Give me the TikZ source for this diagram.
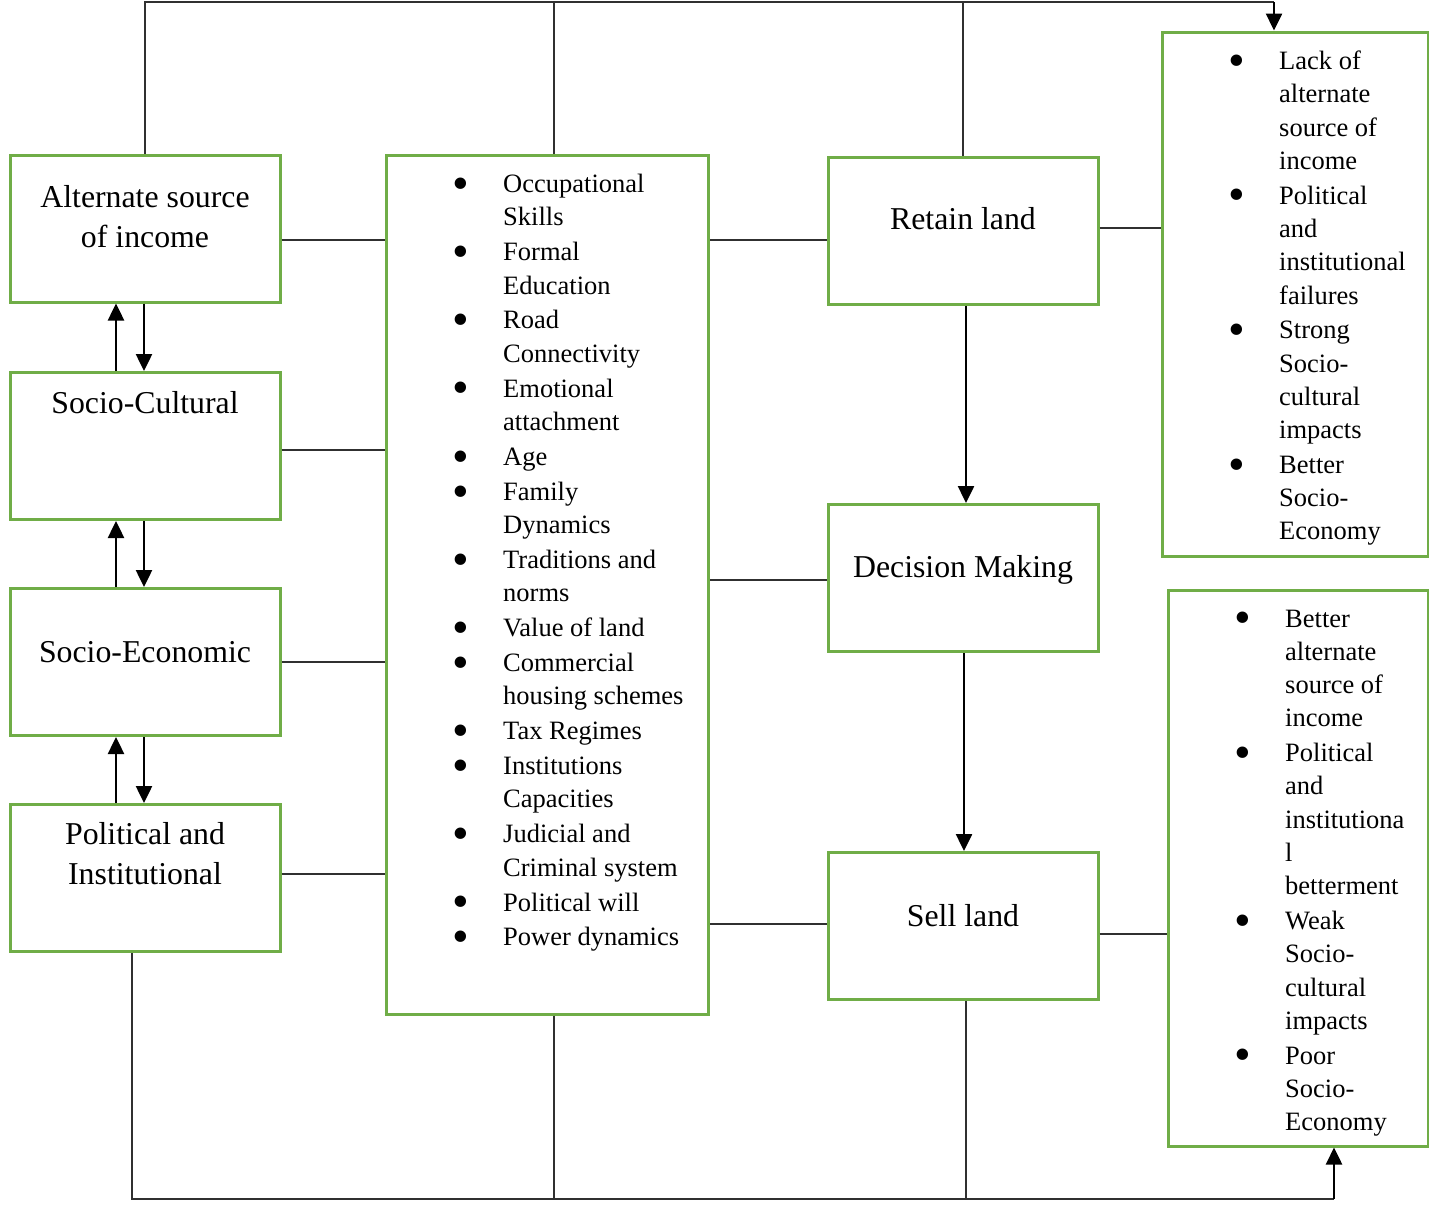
\documentclass[tikz,border=0pt]{standalone}
\usepackage{fontspec}
\setmainfont{Liberation Serif}
\usetikzlibrary{arrows.meta}
\definecolor{boxgreen}{HTML}{70AD47}
\definecolor{wiregray}{HTML}{303030}
\newcommand{\bul}{\makebox[46.6pt][l]{\hspace{-3.7pt}\smash{\raisebox{-6.8pt}{\scalebox{1.8}{\textbullet}}}}}

\begin{document}
\begin{tikzpicture}[x=1pt,y=-1pt,
    box/.style={draw=boxgreen,line width=3pt,inner sep=0pt,
      minimum width=270pt,minimum height=147pt},
    boxtext/.style={font=\fontsize{31.8}{40}\selectfont,anchor=base,inner sep=0pt},
    listtext/.style={font=\fontsize{26.5}{33.3}\selectfont,anchor=base west,inner sep=0pt},
    wire/.style={draw=wiregray,line width=1.3pt},
    arr/.style={line width=2.5pt,-{Triangle[length=17pt,width=16pt]}}]
  \useasboundingbox (0,0) rectangle (1429,1205);

  % left column
  \node[box] (alt) at (145,228.5) {};
  \node[box] (soccult) at (145,446) {};
  \node[box] (socecon) at (145,662) {};
  \node[box] (polinst) at (145,878) {};
  \node[boxtext] (altlbl) at (145,207)
    {\begin{tabular}[t]{@{}c@{}}Alternate source\\of income\end{tabular}};
  \node[boxtext] (soccultlbl) at (145,413) {Socio-Cultural};
  \node[boxtext] (soceconlbl) at (145,662) {Socio-Economic};
  \node[boxtext] (polinstlbl) at (145,844)
    {\begin{tabular}[t]{@{}c@{}}Political and\\Institutional\end{tabular}};

  % factors
  \node[box,minimum width=322pt,minimum height=859pt] (factors) at (547,584.5) {};
  \node[listtext] (factorlist) at (456.4,192.5) {\begin{tabular}[t]{@{}l@{}l@{}}
    \bul & Occupational\\ & Skills\\[1.6pt]
    \bul & Formal\\ & Education\\[1.6pt]
    \bul & Road\\ & Connectivity\\[1.6pt]
    \bul & Emotional\\ & attachment\\[1.6pt]
    \bul & Age\\[1.6pt]
    \bul & Family\\ & Dynamics\\[1.6pt]
    \bul & Traditions and\\ & norms\\[1.6pt]
    \bul & Value of land\\[1.6pt]
    \bul & Commercial\\ & housing schemes\\[1.6pt]
    \bul & Tax Regimes\\[1.6pt]
    \bul & Institutions\\ & Capacities\\[1.6pt]
    \bul & Judicial and\\ & Criminal system\\[1.6pt]
    \bul & Political will\\[1.6pt]
    \bul & Power dynamics
  \end{tabular}};

  % decisions
  \node[box] (retain) at (963,230.5) {};
  \node[box] (decide) at (963,578) {};
  \node[box] (sell) at (963,926) {};
  \node[boxtext] (retainlbl) at (963,229) {Retain land};
  \node[boxtext] (decidelbl) at (963,577) {Decision Making};
  \node[boxtext] (selllbl) at (963,926) {Sell land};

  % outcomes
  \node[box,minimum width=266pt,minimum height=524pt] (keepwhy) at (1295,294) {};
  \node[listtext] (keeplist) at (1232.4,69.5) {\begin{tabular}[t]{@{}l@{}l@{}}
    \bul & Lack of\\ & alternate\\ & source of\\ & income\\[1.4pt]
    \bul & Political\\ & and\\ & institutional\\ & failures\\[1.4pt]
    \bul & Strong\\ & Socio-\\ & cultural\\ & impacts\\[1.4pt]
    \bul & Better\\ & Socio-\\ & Economy
  \end{tabular}};
  \node[box,minimum width=260pt,minimum height=556pt] (sellwhy) at (1298,868) {};
  \node[listtext] (selllist) at (1238.4,627) {\begin{tabular}[t]{@{}l@{}l@{}}
    \bul & Better\\ & alternate\\ & source of\\ & income\\[1.4pt]
    \bul & Political\\ & and\\ & institutiona\\ & l\\ & betterment\\[1.4pt]
    \bul & Weak\\ & Socio-\\ & cultural\\ & impacts\\[1.4pt]
    \bul & Poor\\ & Socio-\\ & Economy
  \end{tabular}};

  % two-way arrows on the left
  \draw[arr] ([xshift=-29pt]soccult.north) -- ([xshift=-29pt]alt.south);
  \draw[arr] ([xshift=-1pt]alt.south) -- ([xshift=-1pt]soccult.north);
  \draw[arr] ([xshift=-29pt]socecon.north) -- ([xshift=-29pt]soccult.south);
  \draw[arr] ([xshift=-1pt]soccult.south) -- ([xshift=-1pt]socecon.north);
  \draw[arr] ([xshift=-29pt]polinst.north) -- ([xshift=-29pt]socecon.south);
  \draw[arr] ([xshift=-1pt]socecon.south) -- ([xshift=-1pt]polinst.north);

  % links to the factors box
  \draw[wire] ([yshift=-11.5pt]alt.east) coordinate (l1) -- (l1 -| factors.west);
  \draw[wire] ([yshift=-4pt]soccult.east) coordinate (l2) -- (l2 -| factors.west);
  \draw[wire] (socecon.east) -- (socecon.east -| factors.west);
  \draw[wire] ([yshift=4pt]polinst.east) coordinate (l4) -- (l4 -| factors.west);
  \draw[wire] ([yshift=-9.5pt]retain.west) coordinate (r1) -- (r1 -| factors.east);
  \draw[wire] ([yshift=-2pt]decide.west) coordinate (r2) -- (r2 -| factors.east);
  \draw[wire] ([yshift=2pt]sell.west) coordinate (r3) -- (r3 -| factors.east);
  \draw[wire] ([yshift=2.5pt]retain.east) coordinate (o1) -- (o1 -| keepwhy.west);
  \draw[wire] ([yshift=-8pt]sell.east) coordinate (o2) -- (o2 -| sellwhy.west);

  % decision flow
  \draw[arr] ([xshift=3pt]retain.south) -- ([xshift=3pt]decide.north);
  \draw[arr] ([xshift=1pt]decide.south) -- ([xshift=1pt]sell.north);

  % top loop
  \coordinate (topright) at (1274,2);
  \draw[wire] (alt.north) |- (topright);
  \draw[wire] ([xshift=7pt]factors.north) -- ([xshift=7pt]factors.north |- topright);
  \draw[wire] (retain.north) -- (retain.north |- topright);
  \draw[arr] (topright) -- (topright |- keepwhy.north);

  % bottom loop
  \coordinate (botright) at (1334,1199);
  \draw[wire] ([xshift=-13pt]polinst.south) |- (botright);
  \draw[wire] ([xshift=7pt]factors.south) -- ([xshift=7pt]factors.south |- botright);
  \draw[wire] ([xshift=3pt]sell.south) -- ([xshift=3pt]sell.south |- botright);
  \draw[arr] (botright) -- (botright |- sellwhy.south);
\end{tikzpicture}
\end{document}
